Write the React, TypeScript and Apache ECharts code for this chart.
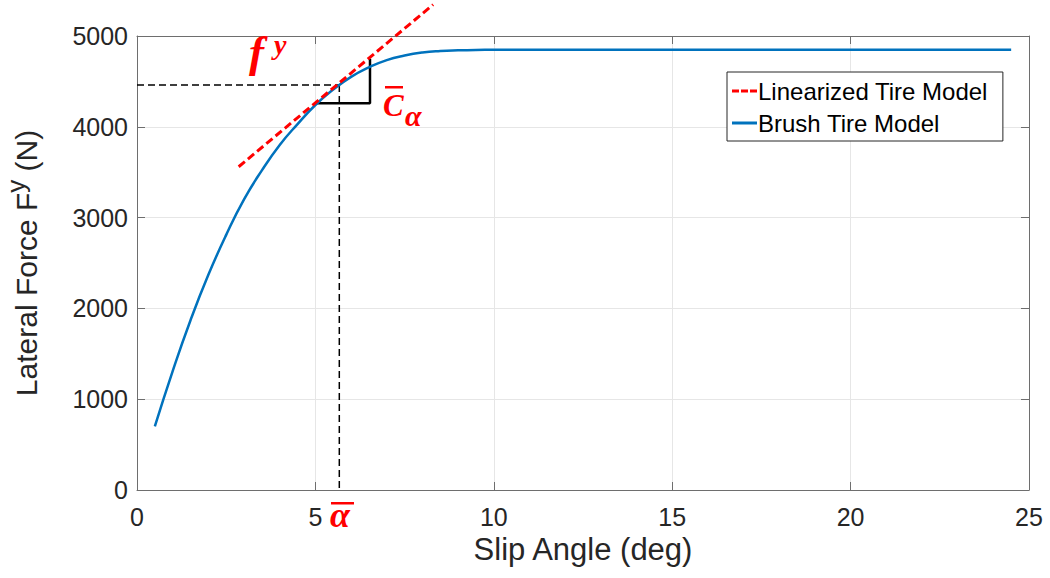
import React, { useEffect, useRef } from "react";
import * as echarts from "echarts";

const slipAngle = [
  0.5, 1, 1.5, 2, 2.5, 3, 3.5, 4, 4.5, 5, 5.5, 6, 6.5, 7, 7.5, 8, 8.5, 9, 9.5, 10,
  10.5, 11, 11.5, 12, 12.5, 13, 13.5, 14, 14.5, 15, 15.5, 16, 16.5, 17, 17.5, 18,
  18.5, 19, 19.5, 20, 20.5, 21, 21.5, 22, 22.5, 23, 23.5, 24, 24.5,
];
const brushForce = [
  700, 1310, 1870, 2370, 2810, 3200, 3520, 3800, 4030, 4240, 4410, 4550, 4655, 4735, 4785, 4818, 4835, 4843, 4847, 4848,
  4848, 4848, 4848, 4848, 4848, 4848, 4848, 4848, 4848, 4848, 4848, 4848, 4848, 4848, 4848, 4848,
  4848, 4848, 4848, 4848, 4848, 4848, 4848, 4848, 4848, 4848, 4848, 4848, 4848,
];
const linearSlip = [2.85, 8.3];
const linearForce = [3560, 5345];
const operatingSlip = 5.67;
const operatingForce = 4460;
const triangleSlip = [5.03, 6.53, 6.53];
const triangleForce = [4259, 4259, 4750];
const xTicks = { min: 0, max: 25, interval: 5 };
const yTicks = { min: 0, max: 5000, interval: 1000 };

const seriesNames = ["Linearized Tire Model", "Brush Tire Model"];

const AXIS_COLOR = "#6e6e6e";
const TEXT_COLOR = "#262626";
const FONT = "'Liberation Sans', Arial, sans-serif";
const MATH_FONT = "'Liberation Serif', 'DejaVu Serif', serif";
const RED = "#ff0000";
const BLUE = "#0072bd";

export default function App() {
  const ref = useRef<HTMLDivElement>(null);

  useEffect(() => {
    if (!ref.current) return;
    const chart = echarts.init(ref.current, undefined, { renderer: "svg" });

    const boxAxis = {
      axisLine: { show: true, onZero: false, lineStyle: { color: AXIS_COLOR, width: 1 } },
      axisTick: { show: true, inside: true, length: 8, lineStyle: { color: AXIS_COLOR } },
      axisLabel: { show: false },
      splitLine: { show: false },
    };

    const option: any = {
      animation: false,
      backgroundColor: "#ffffff",
      grid: { left: 137, right: 21, top: 36, bottom: 88, containLabel: false, outerBoundsMode: "none" },
      legend: {
        data: [
          {
            name: seriesNames[0],
            icon: "path://M0,0h7v3h-7z M9,0h7v3h-7z M18,0h7v3h-7z",
            itemStyle: { color: RED },
          },
          { name: seriesNames[1], icon: "rect", itemStyle: { color: BLUE } },
        ],
        orient: "vertical",
        left: 727,
        top: 72,
        backgroundColor: "#ffffff",
        borderColor: "#262626",
        borderWidth: 1,
        borderRadius: 0,
        padding: [6, 15, 5, 5],
        itemWidth: 25,
        itemHeight: 3,
        itemGap: 6,
        textStyle: { fontFamily: FONT, fontSize: 24, lineHeight: 26, color: "#000000", padding: [0, 0, 0, -4] },
      },
      xAxis: [
        {
          type: "value",
          position: "bottom",
          ...xTicks,
          name: "Slip Angle (deg)",
          nameLocation: "middle",
          nameGap: 40,
          nameTextStyle: { fontFamily: FONT, fontSize: 31, color: TEXT_COLOR },
          axisLine: { show: true, onZero: false, lineStyle: { color: AXIS_COLOR, width: 1 } },
          axisTick: { show: true, inside: true, length: 8, lineStyle: { color: AXIS_COLOR } },
          axisLabel: { fontFamily: FONT, fontSize: 25, color: TEXT_COLOR, margin: 14, formatter: (v: number) => String(v) },
          splitLine: { show: true, lineStyle: { color: "#e6e6e6", width: 1 } },
        },
        { type: "value", position: "top", ...xTicks, ...boxAxis },
      ],
      yAxis: [
        {
          type: "value",
          position: "left",
          ...yTicks,
          name: "{a|Lateral Force F}{s|y}{a| (N)}",
          nameLocation: "middle",
          nameGap: 88,
          nameRotate: 90,
          nameTextStyle: {
            fontFamily: FONT,
            color: TEXT_COLOR,
            rich: {
              a: { fontFamily: FONT, fontSize: 30, color: TEXT_COLOR, lineHeight: 40 },
              s: { fontFamily: FONT, fontSize: 26, color: TEXT_COLOR, verticalAlign: "top", padding: [0, 0, 20, 0] },
            },
          },
          axisLine: { show: true, onZero: false, lineStyle: { color: AXIS_COLOR, width: 1 } },
          axisTick: { show: true, inside: true, length: 8, lineStyle: { color: AXIS_COLOR } },
          axisLabel: { fontFamily: FONT, fontSize: 25, color: TEXT_COLOR, margin: 9, formatter: (v: number) => String(v) },
          splitLine: { show: true, lineStyle: { color: "#e6e6e6", width: 1 } },
        },
        { type: "value", position: "right", ...yTicks, ...boxAxis },
      ],
      series: [
        {
          name: "Brush Tire Model",
          type: "line",
          data: slipAngle.map((x, i) => [x, brushForce[i]]),
          showSymbol: false,
          symbol: "none",
          smooth: true,
          lineStyle: { color: BLUE, width: 2.5 },
          itemStyle: { color: BLUE },
          z: 3,
        },
        {
          name: "operating-h",
          type: "line",
          data: [
            [0, operatingForce],
            [operatingSlip, operatingForce],
          ],
          symbol: "none",
          lineStyle: { color: "#000000", width: 1.5, type: [7, 4] },
          z: 2,
        },
        {
          name: "operating-v",
          type: "line",
          data: [
            [operatingSlip, operatingForce],
            [operatingSlip, 0],
          ],
          symbol: "none",
          lineStyle: { color: "#000000", width: 1.5, type: [7, 4] },
          z: 2,
        },
        {
          name: "slope-triangle",
          type: "line",
          data: triangleSlip.map((x, i) => [x, triangleForce[i]]),
          symbol: "none",
          lineStyle: { color: "#000000", width: 2.5 },
          z: 2,
        },
        {
          name: "Linearized Tire Model",
          type: "line",
          data: linearSlip.map((x, i) => [x, linearForce[i]]),
          symbol: "none",
          clip: false,
          lineStyle: { color: RED, width: 3, type: [8, 4] },
          itemStyle: { color: RED },
          z: 4,
        },
      ],
      graphic: [
        {
          type: "text",
          left: 249,
          top: 29,
          style: { text: "f", font: `italic bold 45px ${MATH_FONT}`, fill: RED },
          z: 10,
        },
        {
          type: "text",
          left: 274,
          top: 30,
          style: { text: "y", font: `italic bold 28px ${MATH_FONT}`, fill: RED },
          z: 10,
        },
        {
          type: "text",
          left: 383,
          top: 90,
          style: { text: "C", font: `italic bold 31px ${MATH_FONT}`, fill: RED },
          z: 10,
        },
        {
          type: "rect",
          shape: { x: 385, y: 86, width: 18, height: 2.5 },
          style: { fill: RED },
          z: 10,
        },
        {
          type: "text",
          left: 405,
          top: 100,
          style: { text: "α", font: `italic bold 30px ${MATH_FONT}`, fill: RED },
          z: 10,
        },
        {
          type: "text",
          left: 330,
          top: 497,
          style: { text: "α", font: `italic bold 36px ${MATH_FONT}`, fill: RED },
          z: 10,
        },
        {
          type: "rect",
          shape: { x: 331, y: 502, width: 23, height: 2.5 },
          style: { fill: RED },
          z: 10,
        },
      ],
    };

    chart.setOption(option);
    return () => chart.dispose();
  }, []);

  return (
    <div
      ref={ref}
      style={{ position: "fixed", left: 0, top: 0, width: 1050, height: 578, background: "#fff" }}
    />
  );
}
